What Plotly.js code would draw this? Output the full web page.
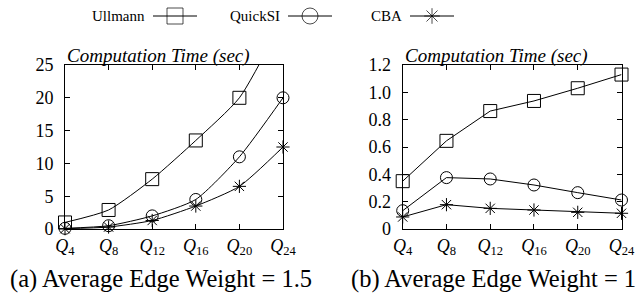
<!DOCTYPE html>
<html>
<head>
<meta charset="utf-8">
<script src="https://cdn.plot.ly/plotly-3.0.1.min.js"></script>
<style>
  html, body { margin: 0; padding: 0; background: #fff; }
  #chart { width: 641px; height: 293px; }
</style>
</head>
<body>
<div id="chart"></div>
<script>
// ---- data ----
const categories = ["4", "8", "12", "16", "20", "24"];            // Q subscripts
const seriesNames = ["Ullmann", "QuickSI", "CBA"];
// (a) Average Edge Weight = 1.5
const ullmannA = [1.0, 2.9, 7.6, 13.5, 20.0, 32.0];
const quicksiA = [0.1, 0.5, 2.0, 4.5, 11.0, 20.0];
const cbaA     = [0.05, 0.3, 1.3, 3.5, 6.5, 12.5];
// (b) Average Edge Weight = 1
const ullmannB = [0.35, 0.645, 0.863, 0.937, 1.03, 1.13];
const quicksiB = [0.134, 0.376, 0.366, 0.322, 0.266, 0.212];
const cbaB     = [0.088, 0.178, 0.151, 0.139, 0.122, 0.115];
const yTicksA = [0, 5, 10, 15, 20, 25];
const yTicksB = [0, 0.2, 0.4, 0.6, 0.8, 1.0, 1.2];
const yTickTextB = ["0", "0.2", "0.4", "0.6", "0.8", "1.0", "1.2"];
const captions = ["(a) Average Edge Weight = 1.5", "(b) Average Edge Weight = 1"];
const yTitle = "Computation Time (sec)";

// ---- styles ----
const FONT = "Liberation Serif";
const symbols = ["square-open", "circle-open", "asterisk-open"];
const sizes = [13, 12, 11];
const legendSizes = [16, 16, 13];
const xIdx = categories.map((_, i) => i);
const xTickText = categories.map(c => "<i>Q</i><sub>" + c + "</sub>");

function series(y, k, xa, ya, yMax, shape) {
  return {
    x: xIdx, y: y, xaxis: xa, yaxis: ya, type: "scatter", mode: "lines+markers",
    name: seriesNames[k], showlegend: false, cliponaxis: false, hoverinfo: "skip",
    line: { color: "#000", width: 1, shape: shape, smoothing: 0.6 },
    marker: { symbol: symbols[k], size: sizes[k], color: "#000",
              opacity: y.map(v => v > yMax ? 0 : 1),
              line: { color: "#000", width: 1 } }
  };
}

const traces = [
  series(ullmannA, 0, "x", "y", 25, "spline"),
  series(quicksiA, 1, "x", "y", 25, "spline"),
  series(cbaA, 2, "x", "y", 25, "spline"),
  series(ullmannB, 0, "x2", "y2", 1.2, "linear"),
  series(quicksiB, 1, "x2", "y2", 1.2, "linear"),
  series(cbaB, 2, "x2", "y2", 1.2, "linear")
];

// custom legend (text left of sample) on a pixel-mapped helper axis
const legendTextRight = [147, 282, 404];
const legendY = 16;
const annotations = [];
seriesNames.forEach((nm, k) => {
  const a = legendTextRight[k] + 6, b = a + 44, m = (a + b) / 2;
  traces.push({
    x: [a, m, b], y: [legendY, legendY, legendY], xaxis: "x3", yaxis: "y3",
    type: "scatter", mode: "lines+markers", showlegend: false, hoverinfo: "skip",
    cliponaxis: false,
    line: { color: "#000", width: 1 },
    marker: { symbol: symbols[k], size: [0, legendSizes[k], 0], color: "#000",
              line: { color: "#000", width: 1 } }
  });
  annotations.push({
    xref: "x3", yref: "y3", x: legendTextRight[k], y: legendY,
    xanchor: "right", yanchor: "middle", showarrow: false, text: nm,
    font: { family: FONT, size: 15, color: "#000" }
  });
});

// axis titles above each plot
[["x domain", "y domain"], ["x2 domain", "y2 domain"]].forEach(([xr, yr]) => {
  annotations.push({
    xref: xr, yref: yr, x: 0, y: 1, xanchor: "left", yanchor: "bottom",
    xshift: 0, yshift: -4, showarrow: false, text: "<i>" + yTitle + "</i>",
    font: { family: FONT, size: 19, color: "#000" }
  });
});
// captions
[[161, captions[0]], [493, captions[1]]].forEach(([cx, t]) => {
  annotations.push({
    xref: "x3", yref: "y3", x: cx, y: 279, xanchor: "center", yanchor: "middle",
    showarrow: false, text: t, font: { family: FONT, size: 24.5, color: "#000" }
  });
});

const W = 641, H = 293;
const baseX = {
  range: [0, 5], tickvals: xIdx, ticktext: xTickText, ticks: "inside", ticklen: 5,
  tickcolor: "#000", mirror: "ticks", showline: true, linecolor: "#000", linewidth: 1,
  showgrid: false, zeroline: false, fixedrange: true,
  tickfont: { family: FONT, size: 18, color: "#000" }
};
const baseY = {
  ticks: "inside", ticklen: 5, tickcolor: "#000", mirror: "ticks", showline: true,
  linecolor: "#000", linewidth: 1, showgrid: false, zeroline: false, fixedrange: true,
  tickfont: { family: FONT, size: 18, color: "#000" }, ticklabelstandoff: 7
};
const yDom = [(H - 229) / H, (H - 65) / H];

const layout = {
  width: W, height: H, margin: { l: 0, r: 0, t: 0, b: 0 },
  paper_bgcolor: "#fff", plot_bgcolor: "rgba(0,0,0,0)", showlegend: false,
  font: { family: FONT, color: "#000" },
  xaxis: Object.assign({}, baseX, { domain: [65 / W, 283 / W], anchor: "y" }),
  yaxis: Object.assign({}, baseY, { domain: yDom, anchor: "x", range: [0, 25],
    tickvals: yTicksA, ticktext: yTicksA.map(String) }),
  xaxis2: Object.assign({}, baseX, { domain: [402.7 / W, 621.5 / W], anchor: "y2" }),
  yaxis2: Object.assign({}, baseY, { domain: yDom, anchor: "x2", range: [0, 1.2],
    tickvals: yTicksB, ticktext: yTickTextB }),
  xaxis3: { domain: [0, 1], range: [0, W], visible: false, fixedrange: true, anchor: "y3" },
  yaxis3: { domain: [0, 1], range: [H, 0], visible: false, fixedrange: true, anchor: "x3" },
  annotations: annotations
};

Plotly.newPlot("chart", traces, layout, { staticPlot: true, displayModeBar: false });
</script>
</body>
</html>
